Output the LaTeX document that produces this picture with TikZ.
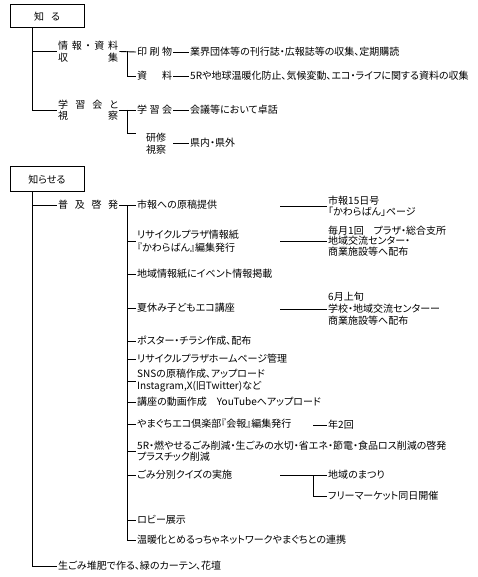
\documentclass[tikz,border=0pt]{standalone}
\usepackage{fontspec}
\setmainfont{Noto Sans CJK JP}[RawFeature=+palt]
\begin{document}
\begin{tikzpicture}[x=1pt,y=-1pt,
  ln/.style={line width=0.9pt},
  hdbox/.style={draw, line width=1pt, minimum width=74pt, minimum height=23pt, inner sep=0pt, font=\fontsize{10}{12}\selectfont},
  tx/.style={anchor=west, inner sep=1pt, align=left, font=\fontsize{10}{12}\selectfont},
  tight/.style={font=\fontsize{10}{10.5}\selectfont},
  ]
\useasboundingbox (0,0) rectangle (477,577);
\coordinate (tk) at (32,0);
\coordinate (bx) at (127,0);
\coordinate (cA) at (280,0);
\coordinate (cB) at (313,0);

% ---------- 知る ----------
\node[hdbox] (k) at (47,16.5) {知\hspace{0.7em}る};
\node[tx] (j1) at (57,51.5) {\hbox to 60pt{情\hfill 報\hfill ・\hfill 資\hfill 料}\\\hbox to 60pt{収\hfill 集}};
\node[tx] (p1) at (136,52) {\hbox to 35pt{印\hfill 刷\hfill 物}};
\node[tx] (p2) at (136,76) {\hbox to 35pt{資\hfill 料}};
\node[tx] (q1) at (189,52) {業界団体等の刊行誌・広報誌等の収集、定期購読};
\node[tx] (q2) at (189,76) {5Rや地球温暖化防止、気候変動、エコ・ライフに関する資料の収集};
\node[tx, font=\fontsize{10}{11}\selectfont] (j2) at (57,110) {\hbox to 60pt{学\hfill 習\hfill 会\hfill と}\\\hbox to 60pt{視\hfill 察}};
\node[tx] (p3) at (136,110) {\hbox to 35pt{学\hfill 習\hfill 会}};
\node[tx] (p4) at (145,144) {研修\\視察};
\coordinate (p4b) at (136,133);
\node[tx] (q3) at (189,110) {会議等において卓話};
\node[tx] (q4) at (189,143) {県内・県外};

\draw[ln] (k.south -| tk) |- (j2.west);
\draw[ln] (j1.west -| tk) -- (j1.west);
\draw[ln] (j1.east) -- (p1.west);
\draw[ln] (j1.east -| bx) |- (p2.west);
\draw[ln] (p1.east) -- (q1.west);
\draw[ln] (p2.east) -- (q2.west);
\draw[ln] (j2.east) -- (p3.west);
\draw[ln] (j2.east -| bx) |- (p4b);
\draw[ln] (p3.east) -- (q3.west);
\draw[ln] (p3.east |- q4.west) -- (q4.west);

% ---------- 知らせる ----------
\node[hdbox, minimum height=25pt] (s) at (47,179.5) {知らせる};
\node[tx] (a1) at (57,205) {\hbox to 60pt{普\hfill 及\hfill 啓\hfill 発}};
\node[tx] (a2) at (57,566) {生ごみ堆肥で作る、緑のカーテン、花壇};

\node[tx] (i1) at (136,205) {市報への原稿提供};
\node[tx, font=\fontsize{10}{13}\selectfont] (i2) at (136,241) {リサイクルプラザ情報紙\\『かわらばん』編集発行};
\node[tx] (i3) at (136,274) {地域情報紙にイベント情報掲載};
\node[tx] (i4) at (136,308) {夏休み子どもエコ講座};
\node[tx] (i5) at (136,341) {ポスター・チラシ作成、配布};
\node[tx] (i6) at (136,359) {リサイクルプラザホームページ管理};
\node[tx] (i7) at (136,381) {SNSの原稿作成、アップロード\\Instagram,X(旧Twitter)など};
\node[tx] (i8) at (136,402) {講座の動画作成　YouTubeへアップロード};
\node[tx] (i9) at (136,424) {やまぐちエコ倶楽部『会報』編集発行};
\node[tx, tight] (i10) at (136,451) {5R・燃やせるごみ削減・生ごみの水切・省エネ・節電・食品ロス削減の啓発\\プラスチック削減};
\node[tx] (i11) at (136,475) {ごみ分別クイズの実施};
\node[tx] (i12) at (136,520) {ロビー展示};
\node[tx] (i13) at (136,540) {温暖化とめるっちゃネットワークやまぐちとの連携};

\node[tx, tight] (r1) at (327,206) {市報15日号\\「かわらばん」ページ};
\node[tx, tight] (r2) at (327,241) {毎月1回　プラザ・総合支所\\地域交流センター・\\商業施設等へ配布};
\node[tx] (r3) at (327,309) {6月上旬\\学校・地域交流センターー\\商業施設等へ配布};
\node[tx] (r4) at (327,425) {年2回};
\node[tx] (r5) at (327,475) {地域のまつり};
\node[tx] (r6) at (327,496) {フリーマーケット同日開催};

\draw[ln] (s.south -| tk) |- (a2.west);
\draw[ln] (a1.west -| tk) -- (a1.west);
\draw[ln] (a1.east) -- (i1.west);
\draw[ln] (i1.west -| bx) |- (i13.west);
\foreach \n in {i2,i3,i4,i5,i6,i7,i8,i9,i10,i11,i12}
  \draw[ln] (\n.west -| bx) -- (\n.west);

\draw[ln] (r1.west -| cA) -- (r1.west);
\draw[ln] (r2.west -| cA) -- (r2.west);
\draw[ln] (r3.west -| cA) -- (r3.west);
\draw[ln] (r4.west -| cB) -- (r4.west);
\draw[ln] (r5.west -| cA) -- (r5.west);
\draw[ln] (r5.west -| cB) |- (r6.west);
\end{tikzpicture}
\end{document}
